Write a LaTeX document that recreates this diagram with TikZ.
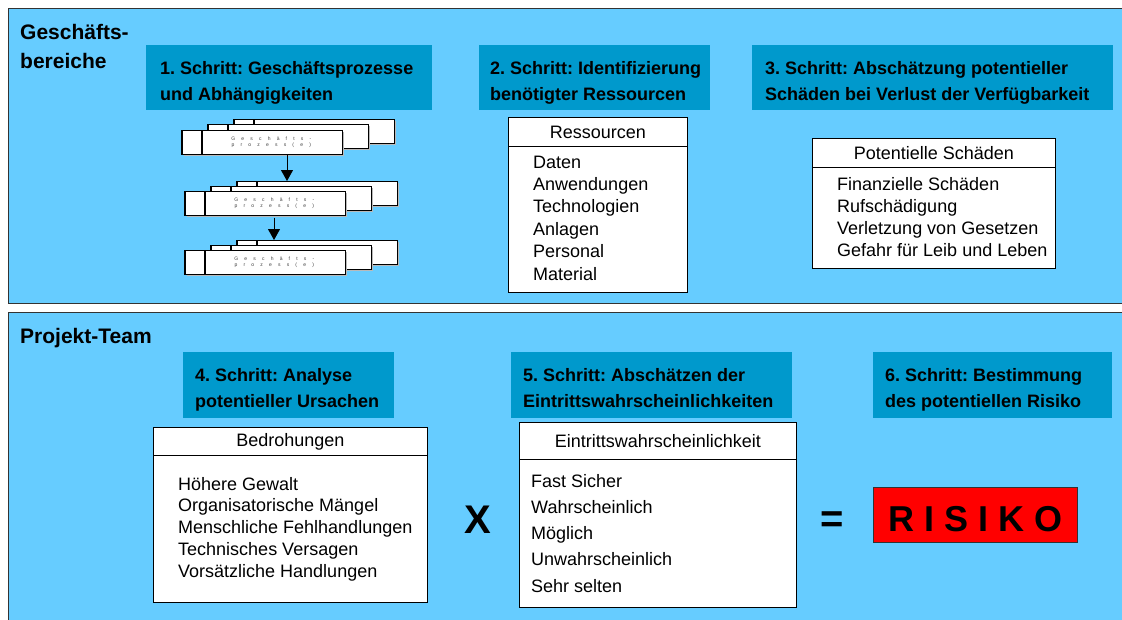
\documentclass[tikz,border=0pt]{standalone}
\usepackage{fontspec}
\setmainfont{Liberation Sans}
\usetikzlibrary{arrows.meta,calc}
\definecolor{panelblue}{HTML}{66CCFF}
\definecolor{stepblue}{HTML}{0099CC}
\definecolor{frame}{HTML}{333333}
\frenchspacing
% struts that fix the vertical placement of the two-line step labels
\newcommand{\stepTop}{\rule{0pt}{24pt}}
\newcommand{\stepBot}{\rule[-4.6pt]{0pt}{4.6pt}}
% one small process sheet: shadow, white sheet, thick left edge and divider
\newcommand{\gpsheet}[3]{%
  \fill[gray!55] (#2+2,#3+2) rectangle (#2+162,#3+26);
  \node[procbox] (#1) at (#2,#3) {};
  \draw[line width=1.3pt] (#1.north west) -- (#1.south west)
    ($(#1.north west)+(20,0)$) -- ($(#1.south west)+(20,0)$);
}
\begin{document}
\begin{tikzpicture}[x=1pt,y=-1pt,
  panel/.style={draw=frame, line width=1.1pt, fill=panelblue, inner sep=0pt, anchor=north west},
  stepbox/.style={fill=stepblue, inner sep=0pt, anchor=north west, minimum height=65pt, minimum width=#1},
  steptext/.style={font=\fontsize{18}{26}\selectfont\bfseries, align=left, inner sep=0pt, anchor=west},
  paneltitle/.style={font=\fontsize{21}{29}\selectfont\bfseries, inner sep=0pt, anchor=base west},
  listbox/.style={draw=black, line width=0.9pt, fill=white, inner sep=0pt, anchor=north west},
  listhead/.style={listbox, font=\fontsize{18}{22}\selectfont},
  listitem/.style={font=\fontsize{18}{22}\selectfont, inner sep=0pt, anchor=base west},
  procbox/.style={draw=black, line width=0.6pt, fill=white, minimum width=160pt, minimum height=24pt, inner sep=0pt, anchor=north west},
  proctext/.style={font={\fontsize{5}{6.3}\selectfont\spaceskip=6.2pt\relax}, text=gray!50!black, align=center, inner sep=0pt},
  flow/.style={line width=0.9pt, -{Triangle[width=12pt,length=11pt]}},
  opsign/.style={font=\fontsize{40}{40}\selectfont\bfseries, inner sep=0pt, anchor=base},
]
\useasboundingbox (0,0) rectangle (1122,619);
\fill[white] (0,0) rectangle (1122,619);

% ---------- panels ----------
\node[panel, minimum width=1122pt, minimum height=295pt] (top) at (8,8) {};
\node[panel, minimum width=1122pt, minimum height=320pt] (bottom) at (8,312) {};
\node[paneltitle] (gb1) at (20,39) {Geschäfts-};
\node[paneltitle] (gb2) at (20,68) {bereiche};
\node[paneltitle] (pt) at (20,343) {Projekt-Team};

% ---------- step boxes ----------
\node[stepbox=286pt] (s1) at (146,45) {};
\node[stepbox=231pt] (s2) at (479,45) {};
\node[stepbox=361pt] (s3) at (752,45) {};
\node[stepbox=211pt, minimum height=66pt] (s4) at (183,352) {};
\node[stepbox=281pt, minimum height=66pt] (s5) at (511,352) {};
\node[stepbox=239pt, minimum height=66pt] (s6) at (873,352) {};

\node[steptext] (t1) at ($(s1.west)+(14,0)$) {\stepTop 1. Schritt: Geschäftsprozesse\\und Abhängigkeiten\stepBot};
\node[steptext] (t2) at ($(s2.west)+(11,0)$) {\stepTop 2. Schritt: Identifizierung\\benötigter Ressourcen\stepBot};
\node[steptext] (t3) at ($(s3.west)+(13,0)$) {\stepTop 3. Schritt: Abschätzung potentieller\\Schäden bei Verlust der Verfügbarkeit\stepBot};
\node[steptext] (t4) at ($(s4.west)+(12,0)$) {\stepTop 4. Schritt: Analyse\\potentieller Ursachen\stepBot};
\node[steptext] (t5) at ($(s5.west)+(12,0)$) {\stepTop 5. Schritt: Abschätzen der\\Eintrittswahrscheinlichkeiten\stepBot};
\node[steptext] (t6) at ($(s6.west)+(12,0)$) {\stepTop 6. Schritt: Bestimmung\\des potentiellen Risiko\stepBot};

% ---------- business process stacks ----------
\gpsheet{b1}{234}{119}
\gpsheet{m1}{208}{124}
\gpsheet{f1}{182}{130}
\gpsheet{b2}{237}{181}
\gpsheet{m2}{211}{186}
\gpsheet{f2}{185}{191}
\gpsheet{b3}{237}{240}
\gpsheet{m3}{211}{245}
\gpsheet{f3}{185}{250}
\foreach \f in {f1,f2,f3}
  \node[proctext] (\f-txt) at ($(\f.center)+(9,0)$) {G e s c h ä f t s -\\p r o z e s s ( e )};

\coordinate (a1) at ($(f1.south west)+(105,0)$);
\draw[flow] (a1) -- (a1 |- b2.north);
\coordinate (a2) at ($(f2.south west)+(89,2)$);
\draw[flow] (a2) -- (a2 |- b3.north);

% ---------- Ressourcen ----------
\node[listbox, minimum width=179pt, minimum height=146pt] (resb) at (508,146) {};
\node[listhead, minimum width=179pt, minimum height=29pt] (resh) at (508,117) {Ressourcen};
\foreach \t [count=\i] in {Daten, Anwendungen, Technologien, Anlagen, Personal, Material}
  \node[listitem] (res\i) at (533,{168+22.4*(\i-1)}) {\t};

% ---------- Potentielle Schaeden ----------
\node[listbox, minimum width=243pt, minimum height=101pt] (damb) at (812,167) {};
\node[listhead, minimum width=243pt, minimum height=29pt] (damh) at (812,138) {Potentielle Schäden};
\foreach \t [count=\i] in {Finanzielle Schäden, Rufschädigung, Verletzung von Gesetzen, Gefahr für Leib und Leben}
  \node[listitem] (dam\i) at (837,{190+22*(\i-1)}) {\t};

% ---------- Bedrohungen ----------
\node[listbox, minimum width=274pt, minimum height=147pt] (thrb) at (153,455) {};
\node[listhead, minimum width=274pt, minimum height=28pt] (thrh) at (153,427) {Bedrohungen};
\foreach \t [count=\i] in {Höhere Gewalt, Organisatorische Mängel, Menschliche Fehlhandlungen, Technisches Versagen, Vorsätzliche Handlungen}
  \node[listitem] (thr\i) at (178,{490+21.8*(\i-1)}) {\t};

% ---------- Eintrittswahrscheinlichkeit ----------
\node[listbox, minimum width=277pt, minimum height=148pt] (probb) at (519,459) {};
\node[listhead, minimum width=277pt, minimum height=37pt, text height=13pt, text depth=-4pt] (probh) at (519,422) {Eintrittswahrscheinlichkeit};
\foreach \t [count=\i] in {Fast Sicher, Wahrscheinlich, Möglich, Unwahrscheinlich, Sehr selten}
  \node[listitem] (prob\i) at (531,{487+26.3*(\i-1)}) {\t};

% ---------- operators and result ----------
\node[opsign] (times) at (478,533) {X};
\node[opsign] (equals) at (832,532) {=};
\node[draw=frame, line width=1pt, fill=red, inner sep=0pt, anchor=north west,
      minimum width=204pt, minimum height=55pt,
      font=\fontsize{36}{36}\selectfont\bfseries, text height=33pt, text depth=0pt] (risk) at (873,487) {R I S I K O};
\end{tikzpicture}
\end{document}
